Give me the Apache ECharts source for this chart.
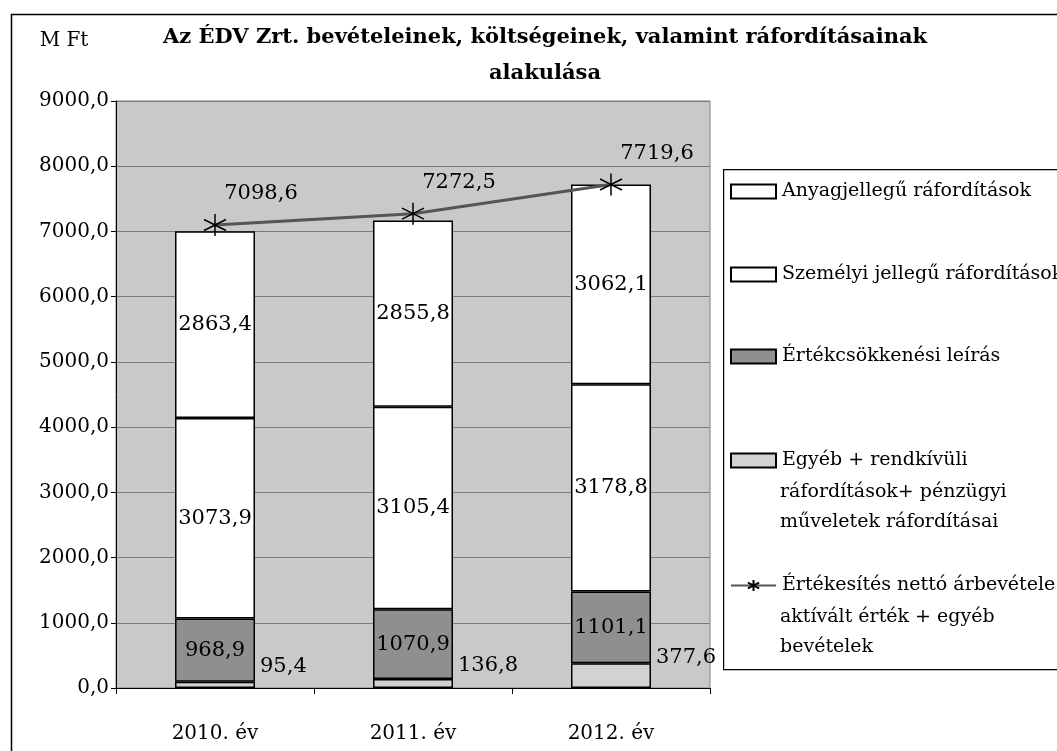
<!DOCTYPE html>
<html>
<head>
<meta charset="utf-8">
<script src="https://cdn.jsdelivr.net/npm/echarts@6/dist/echarts.min.js"></script>
<style>
html,body{margin:0;padding:0;background:#fff;}
#main{width:1057px;height:751px;}
</style>
</head>
<body>
<div id="main"></div>
<script>
var years = ['2010. év', '2011. év', '2012. év'];
var egyeb = [95.4, 136.8, 377.6];
var ertekcsokkenes = [968.9, 1070.9, 1101.1];
var szemelyi = [3073.9, 3105.4, 3178.8];
var anyag = [2863.4, 2855.8, 3062.1];
var bevetel = [7098.6, 7272.5, 7719.6];
var yTicks = [0, 9000, 1000]; // min, max, interval

var FONT = 'DejaVu Serif';
var names = {
    anyag: 'Anyagjellegű ráfordítások',
    szemelyi: 'Személyi jellegű ráfordítások',
    ertek: 'Értékcsökkenési leírás',
    egyeb: 'Egyéb + rendkívüli',
    bev: 'Értékesítés nettó árbevétele +'
};
var hu = function(v){
    return v.toFixed(1).replace('.', ',');
};
var starPath = 'path://M10,0L10,20M1,5L19,15M1,15L19,5';

var chart = echarts.init(document.getElementById('main'));

//egy-egy jelmagyarázat elem
var legendAt = function(name, top, icon){
    var l = {
        data: [name],
        left: 730, top: top,
        orient: 'vertical',
        itemWidth: 45, itemHeight: 14,
        itemGap: 0,
        padding: 0,
        selectedMode: false,
        textStyle: {fontFamily: FONT, fontSize: 19, color: '#000', padding: [0, 0, 0, 1]}
    };
    if(icon) l.icon = icon;
    return l;
};

var barBase = {
    type: 'bar',
    stack: 'k',
    barWidth: 80,
    label: {
        show: true, position: 'inside',
        fontFamily: FONT, fontSize: 21, color: '#000',
        formatter: function(p){ return hu(p.value); }
    }
};

var option = {
    backgroundColor: '#fff',
    animation: false,
    title: {
        text: 'Az ÉDV Zrt. bevételeinek, költségeinek, valamint ráfordításainak\nalakulása',
        left: 540, top: 15, textAlign: 'center',
        textStyle: {fontFamily: FONT, fontSize: 21, fontWeight: 'bold', color: '#000', lineHeight: 36}
    },
    grid: {
        left: 116, right: 347, top: 101, bottom: 63,
        show: true, backgroundColor: '#c9c9c9', borderColor: '#808080', borderWidth: 1
    },
    legend: [
        legendAt(names.anyag, 182, 'rect'),
        legendAt(names.szemelyi, 265, 'rect'),
        legendAt(names.ertek, 347, 'rect'),
        legendAt(names.egyeb, 451, 'rect'),
        legendAt(names.bev, 576)
    ],
    xAxis: {
        type: 'category',
        data: years,
        axisLine: {lineStyle: {color: '#000', width: 1}},
        axisTick: {show: true, length: 6, lineStyle: {color: '#000'}},
        axisLabel: {fontFamily: FONT, fontSize: 20, color: '#000', margin: 36}
    },
    yAxis: {
        type: 'value',
        min: yTicks[0], max: yTicks[1], interval: yTicks[2],
        name: 'M Ft',
        nameLocation: 'end',
        nameGap: 0,
        nameTextStyle: {fontFamily: FONT, fontSize: 20, color: '#000', align: 'center', padding: [0, 0, 50, -104]},
        axisLine: {show: true, lineStyle: {color: '#000', width: 1}},
        axisTick: {show: true, length: 5, lineStyle: {color: '#000'}},
        axisLabel: {fontFamily: FONT, fontSize: 20, color: '#000', margin: 7, formatter: hu},
        splitLine: {lineStyle: {color: '#7a7a7a', width: 1.2}}
    },
    graphic: [
        {type: 'rect', left: 9, top: 12, shape: {width: 1100, height: 800},
         style: {fill: 'none', stroke: '#000', lineWidth: 1.5}, silent: true},
        {type: 'rect', left: 723, top: 169, shape: {width: 400, height: 500},
         style: {fill: '#fff', stroke: '#000', lineWidth: 1.2}, silent: true, z: -1},
        {type: 'text', left: 780, top: 477, style: {text: 'ráfordítások+ pénzügyi\nműveletek ráfordításai', font: '19px "DejaVu Serif"', fill: '#000', lineHeight: 30}},
        {type: 'text', left: 780, top: 602, style: {text: 'aktívált érték + egyéb\nbevételek', font: '19px "DejaVu Serif"', fill: '#000', lineHeight: 30}}
    ],
    series: [
        echarts.util.merge({
            name: names.egyeb, data: egyeb,
            itemStyle: {color: '#d2d2d2', borderColor: '#000', borderWidth: 1.5},
            label: {position: 'right', offset: [0, -18]}
        }, barBase),
        echarts.util.merge({
            name: names.ertek, data: ertekcsokkenes,
            itemStyle: {color: '#8f8f8f', borderColor: '#000', borderWidth: 1.5}
        }, barBase),
        echarts.util.merge({
            name: names.szemelyi, data: szemelyi,
            itemStyle: {color: '#fff', borderColor: '#000', borderWidth: 1.5}
        }, barBase),
        echarts.util.merge({
            name: names.anyag, data: anyag,
            itemStyle: {color: '#fff', borderColor: '#000', borderWidth: 1.5}
        }, barBase),
        {
            name: names.bev,
            type: 'line',
            data: bevetel,
            z: 5,
            symbol: starPath,
            symbolSize: 22,
            lineStyle: {color: '#555', width: 3},
            itemStyle: {color: '#000', borderColor: '#000', borderWidth: 1.5},
            label: {
                show: true, position: 'top', distance: 5, offset: [46, -4],
                fontFamily: FONT, fontSize: 21, color: '#000',
                formatter: function(p){ return hu(p.value); }
            }
        }
    ]
};

chart.setOption(option);
</script>
</body>
</html>
